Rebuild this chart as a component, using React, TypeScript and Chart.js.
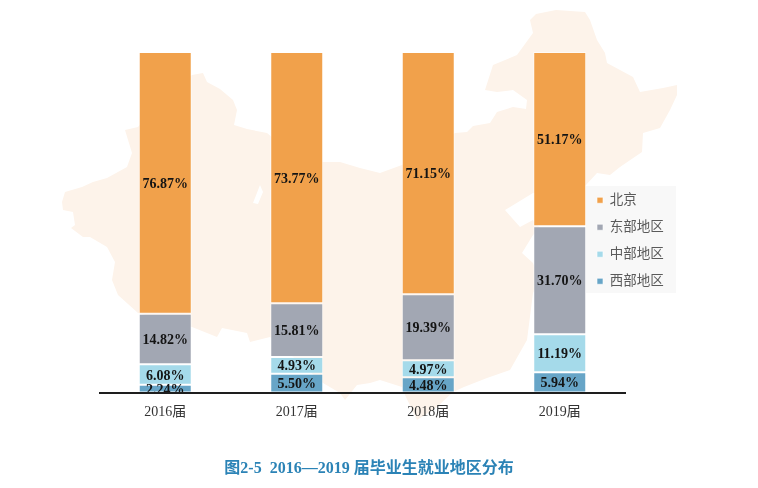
import React, { useEffect, useRef } from "react";
import { Chart, registerables } from "chart.js";

Chart.register(...registerables);

const years = ["2016届", "2017届", "2018届", "2019届"];
const west = [2.24, 5.5, 4.48, 5.94];
const central = [6.08, 4.93, 4.97, 11.19];
const east = [14.82, 15.81, 19.39, 31.7];
const beijing = [76.87, 73.77, 71.15, 51.17];
const titleText = "图2-5  2016—2019 届毕业生就业地区分布";

const SERIF = '"Liberation Serif", "Noto Sans CJK SC", serif';

// Decorative backdrop silhouette, behind the transparent canvas
const mapPath =
  "M62 202 L65 192 L82 187 L93 182 L107 178 L127 167 L132 153 L125 130 L138 127 L155 105 L175 85 L192 75 L203 73 L207 82 L220 89 L233 100 L237 110 L234 125 L247 129 L267 133 L285 148 L323 162 L340 162 L360 168 L380 173 L402 165 L455 133 L467 132 L473 126 L490 123 L497 112 L513 107 L526 109 L527 100 L513 90 L497 92 L485 90 L493 65 L517 55 L533 33 L530 20 L536 14 L556 10 L585 12 L590 20 L597 40 L605 53 L607 63 L633 77 L640 92 L663 88 L677 85 L677 95 L670 110 L660 128 L643 133 L642 152 L620 167 L610 175 L597 173 L586 185 L560 190 L533 193 L505 210 L520 227 L533 220 L540 228 L533 235 L522 253 L533 263 L540 280 L533 293 L527 340 L510 370 L487 378 L464 387 L453 392 L437 407 L417 420 L405 395 L402 387 L380 380 L370 383 L357 385 L345 400 L340 393 L323 383 L270 337 L250 342 L247 333 L222 328 L217 337 L192 327 L138 313 L118 295 L112 280 L115 262 L107 247 L90 237 L83 237 L71 228 L75 225 L73 212 L63 210 Z M260 185 L253 203 L258 204 L263 192 Z";

const valueLabels = {
  id: "valueLabels",
  afterDatasetsDraw(chart: any) {
    const ctx = chart.ctx;
    ctx.save();
    ctx.font = `bold 14px ${SERIF}`;
    ctx.fillStyle = "#141414";
    ctx.textAlign = "center";
    ctx.textBaseline = "middle";
    chart.data.datasets.forEach((ds: any, di: number) => {
      chart.getDatasetMeta(di).data.forEach((bar: any, i: number) => {
        const p = bar.getProps(["x", "y", "base"], true);
        ctx.fillText(ds.data[i].toFixed(2) + "%", p.x, (p.y + p.base) / 2 + 1.5);
      });
    });
    ctx.restore();
  },
};

const placeBoxes = {
  id: "placeBoxes",
  afterLayout(chart: any) {
    const l = chart.legend;
    const w = l.width;
    const h = l.height;
    l.left = 583.5;
    l.right = 583.5 + w;
    l.top = 180;
    l.bottom = 180 + h;
    l.adjustHitBoxes();
    chart.titleBlock.left += 6.5;
    chart.titleBlock.right += 6.5;
  },
};

export default function App() {
  const ref = useRef<HTMLCanvasElement>(null);
  useEffect(() => {
    document.body.style.margin = "0";
    document.body.style.background = "#fff";
    const chart = new Chart(ref.current!, {
      type: "bar",
      data: {
        labels: years,
        datasets: [
          { label: "西部地区", data: west, backgroundColor: "#67A5C7" },
          { label: "中部地区", data: central, backgroundColor: "#A5DAEA" },
          { label: "东部地区", data: east, backgroundColor: "#A2A7B3" },
          { label: "北京", data: beijing, backgroundColor: "#F1A14B" },
        ].map((d) => ({
          ...d,
          borderColor: "rgba(255,255,255,0.6)",
          borderWidth: 1,
          borderSkipped: false,
          barPercentage: 0.403,
          categoryPercentage: 1,
          stack: "a",
        })),
      },
      options: {
        animation: false,
        responsive: false,
        layout: { padding: { left: 99.5, right: 122.5, top: 52, bottom: 10 } },
        scales: {
          x: {
            stacked: true,
            grid: { display: false },
            border: { display: true, color: "#1e1e1e", width: 2, z: 2 },
            ticks: {
              color: "#333333",
              padding: 3,
              font: { family: SERIF, size: 14 },
              maxRotation: 0,
            },
          },
          y: { stacked: true, min: 0, max: 100, display: false },
        },
        plugins: {
          tooltip: { enabled: false },
          title: {
            display: true,
            text: titleText,
            position: "bottom",
            color: "#2B83B6",
            font: { family: SERIF, size: 16, weight: "bold" },
            padding: { top: 35.5, bottom: 0 },
          },
          legend: {
            display: true,
            position: "chartArea",
            align: "start",
            reverse: true,
            labels: {
              color: "#5a5a5a",
              boxWidth: 6,
              boxHeight: 6,
              padding: 13.5,
              font: { family: SERIF, size: 13.5 },
            },
          },
        },
      },
      plugins: [valueLabels, placeBoxes],
    } as any);
    return () => chart.destroy();
  }, []);
  return (
    <div style={{ position: "relative", width: 758, height: 488, background: "#fff", overflow: "hidden" }}>
      <svg width={758} height={488} style={{ position: "absolute", left: 0, top: 0 }}>
        <path d={mapPath} fill="#FDF3EA" fillRule="evenodd" />
        <rect x={586} y={186} width={90} height={107} fill="#F8F8F8" />
      </svg>
      <canvas ref={ref} width={748} height={488} style={{ position: "absolute", left: 0, top: 0 }} />
    </div>
  );
}
